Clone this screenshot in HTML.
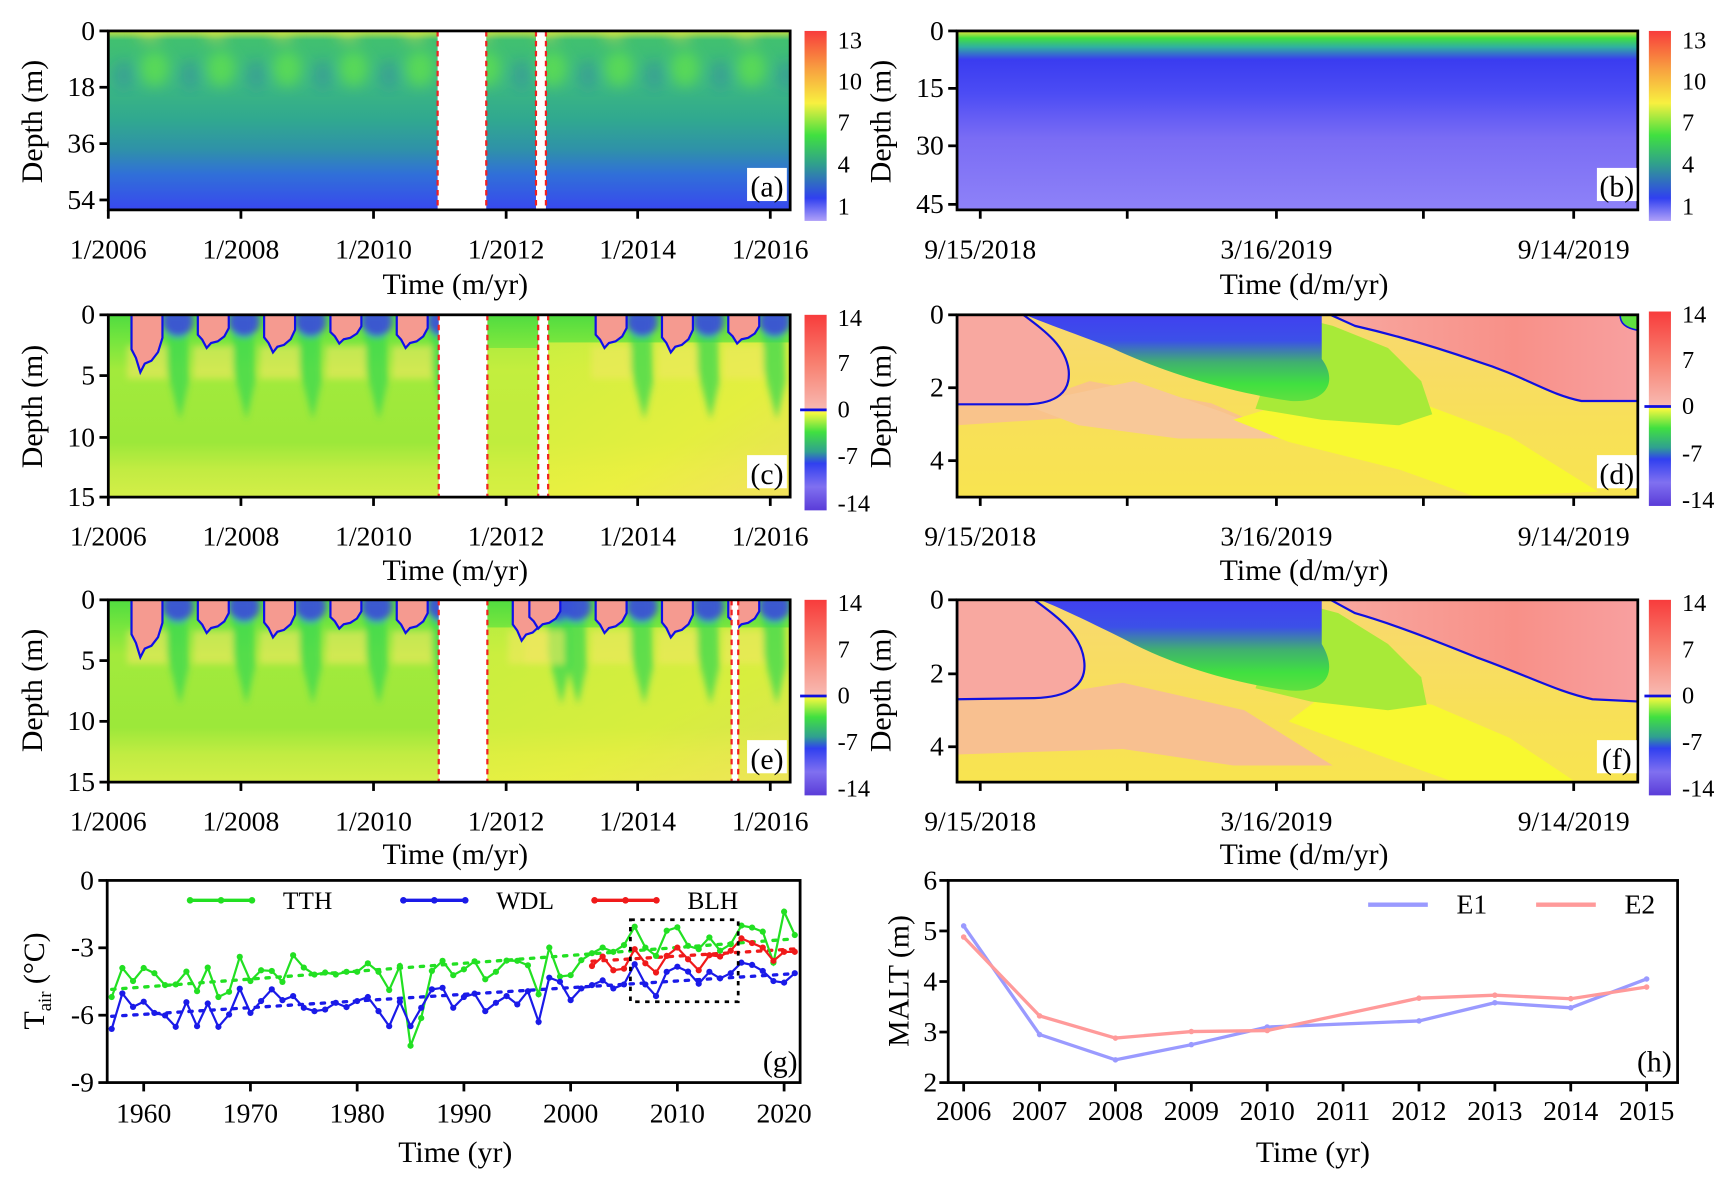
<!DOCTYPE html>
<html><head><meta charset="utf-8"><style>
html,body{margin:0;padding:0;background:#fff;}
svg, svg text{font-family:"Liberation Serif","Times New Roman",serif;}
</style></head><body>
<svg id="fig" width="1724" height="1182" viewBox="0 0 1560 1070" preserveAspectRatio="none" xmlns="http://www.w3.org/2000/svg" font-family="Liberation Serif, serif">
<defs>
<filter id="blur3"><feGaussianBlur stdDeviation="3"/></filter>
<filter id="blur6"><feGaussianBlur stdDeviation="6"/></filter>
<linearGradient id="cbA" x1="0" y1="0" x2="0" y2="1">
<stop offset="0" stop-color="#f83c3c"/><stop offset="0.2" stop-color="#f8a040"/><stop offset="0.38" stop-color="#f8f040"/><stop offset="0.55" stop-color="#40e040"/><stop offset="0.7" stop-color="#30a08c"/><stop offset="0.88" stop-color="#3040f0"/><stop offset="1" stop-color="#b0a0f8"/></linearGradient>
<linearGradient id="cbC" x1="0" y1="0" x2="0" y2="1">
<stop offset="0" stop-color="#f83c3c"/><stop offset="0.25" stop-color="#f88070"/><stop offset="0.48" stop-color="#f8b8b0"/><stop offset="0.5" stop-color="#f8f840"/><stop offset="0.6" stop-color="#40e040"/><stop offset="0.7" stop-color="#30a090"/><stop offset="0.76" stop-color="#3040f0"/><stop offset="0.88" stop-color="#8070f0"/><stop offset="1" stop-color="#5a3cd8"/></linearGradient>
<linearGradient id="gA" x1="0" y1="0" x2="0" y2="1">
<stop offset="0" stop-color="#c8e040"/><stop offset="0.05" stop-color="#40c070"/><stop offset="0.3" stop-color="#3cb880"/><stop offset="0.5" stop-color="#30a890"/><stop offset="0.66" stop-color="#2f92a8"/><stop offset="0.8" stop-color="#3070d8"/><stop offset="1" stop-color="#3848ee"/></linearGradient>
<linearGradient id="gB" x1="0" y1="0" x2="0" y2="1">
<stop offset="0" stop-color="#f0e040"/><stop offset="0.04" stop-color="#40e040"/><stop offset="0.09" stop-color="#30b0a0"/><stop offset="0.16" stop-color="#3a3cf0"/><stop offset="0.35" stop-color="#4c4cf4"/><stop offset="0.6" stop-color="#7a6cf4"/><stop offset="1" stop-color="#8e82f8"/></linearGradient>
<linearGradient id="gC" x1="0" y1="0" x2="0" y2="1">
<stop offset="0" stop-color="#50dc40"/><stop offset="0.15" stop-color="#78e63e"/><stop offset="0.3" stop-color="#a2ea3c"/><stop offset="0.7" stop-color="#9ce83a"/><stop offset="0.85" stop-color="#c2ec42"/><stop offset="1" stop-color="#d4ee48"/></linearGradient>
<linearGradient id="gCr" x1="0" y1="0" x2="1" y2="1">
<stop offset="0" stop-color="#d8f040"/><stop offset="0.6" stop-color="#f0f040"/><stop offset="1" stop-color="#f8e060"/></linearGradient>
<linearGradient id="gD" x1="0" y1="0" x2="0" y2="1">
<stop offset="0" stop-color="#f8d870"/><stop offset="0.6" stop-color="#f8e058"/><stop offset="1" stop-color="#f8e450"/></linearGradient>
<linearGradient id="gWedge" x1="0" y1="0" x2="0" y2="1">
<stop offset="0" stop-color="#4040f0"/><stop offset="0.3" stop-color="#3c50e8"/><stop offset="0.55" stop-color="#40b070"/><stop offset="0.8" stop-color="#40e040"/><stop offset="1" stop-color="#60e040"/></linearGradient>
<linearGradient id="gPinkR" x1="0" y1="0" x2="1" y2="0">
<stop offset="0" stop-color="#f8a8a0"/><stop offset="0.6" stop-color="#f89088"/><stop offset="1" stop-color="#f8a0a0"/></linearGradient>
<clipPath id="clipL"><rect x="0" y="0" width="617" height="165"/></clipPath>
<clipPath id="clipA"><rect x="0" y="0" width="617" height="162"/></clipPath>
</defs>

<g transform="translate(98,28)">
 <g clip-path="url(#clipA)">
  <rect x="0" y="0" width="617" height="162" fill="url(#gA)"/>
  <g id="aSpots" filter="url(#blur6)"></g>
  <rect x="298" y="0" width="44" height="162" fill="#fff"/>
  <rect x="387" y="0" width="9" height="162" fill="#fff"/>
  <g stroke="#f02020" stroke-width="2" stroke-dasharray="5,4"><line x1="298" y1="0" x2="298" y2="162"/><line x1="342" y1="0" x2="342" y2="162"/><line x1="387" y1="0" x2="387" y2="162"/><line x1="396" y1="0" x2="396" y2="162"/></g>
 </g>
 <rect x="0" y="0" width="617" height="162" fill="none" stroke="#000" stroke-width="2.5"/>
</g>
<g transform="translate(866,28)">
 <rect x="0" y="0" width="616" height="162" fill="url(#gB)"/>
 <rect x="0" y="0" width="616" height="162" fill="none" stroke="#000" stroke-width="2.5"/>
</g>
<g transform="translate(98,285)">
 <g clip-path="url(#clipL)">
  <rect x="0" y="0" width="617" height="165" fill="url(#gC)"/>
  <rect x="398" y="25" width="219" height="140" fill="url(#gCr)" opacity="0.85"/>
  <rect x="343" y="30" width="46" height="135" fill="#d8f040" opacity="0.6"/>
  <g id="cDeco"></g>
  <rect x="299" y="0" width="44" height="165" fill="#fff"/>
  <rect x="389" y="0" width="9" height="165" fill="#fff"/>
  <g stroke="#f02020" stroke-width="2" stroke-dasharray="5,4"><line x1="299" y1="0" x2="299" y2="165"/><line x1="343" y1="0" x2="343" y2="165"/><line x1="389" y1="0" x2="389" y2="165"/><line x1="398" y1="0" x2="398" y2="165"/></g>
 </g>
 <rect x="0" y="0" width="617" height="165" fill="none" stroke="#000" stroke-width="2.5"/>
</g>
<g transform="translate(98,543)">
 <g clip-path="url(#clipL)">
  <rect x="0" y="0" width="617" height="165" fill="url(#gC)"/>
  <rect x="343" y="25" width="274" height="140" fill="url(#gCr)" opacity="0.7"/>
  <g id="eDeco"></g>
  <rect x="299" y="0" width="44" height="165" fill="#fff"/>
  <rect x="564" y="0" width="6" height="165" fill="#fff"/>
  <g stroke="#f02020" stroke-width="2" stroke-dasharray="5,4"><line x1="299" y1="0" x2="299" y2="165"/><line x1="343" y1="0" x2="343" y2="165"/><line x1="564" y1="0" x2="564" y2="165"/><line x1="570" y1="0" x2="570" y2="165"/></g>
 </g>
 <rect x="0" y="0" width="617" height="165" fill="none" stroke="#000" stroke-width="2.5"/>
</g>
<g transform="translate(866,285)">
 <g clip-path="url(#clipL)">
  <rect x="0" y="0" width="616" height="165" fill="url(#gD)"/>
  <path d="M0,81 L60,81 L120,60 L230,80 L300,110 L250,95 L170,100 L120,92 L0,100 Z" fill="#f8c090" opacity="0.9"/>
  <path d="M60,81 L160,60 L240,88 L300,112 L200,112 L110,100 Z" fill="#f8c898"/>
  <path d="M330,70 L420,80 L500,110 L580,160 L470,165 L400,140 L300,115 L250,95 Z" fill="#f8f830"/>
  <path d="M300,0 L340,10 L390,30 L420,60 L430,90 L400,100 L330,95 L270,85 Z" fill="#a8ea38"/>
  <path d="M62,0 L330,0 L330,40 C345,60 335,80 302,78 C260,72 200,58 140,30 C110,18 80,8 62,0 Z" fill="url(#gWedge)"/>
  <path d="M0,0 L60,0 C80,15 98,28 101,50 C103,70 90,80 64,81 L0,81 Z" fill="#f8a8a0" stroke="#1010e0" stroke-width="2"/>
  <path d="M338,0 L616,0 L616,78 L565,78 C535,72 515,56 470,42 C430,28 395,18 360,10 Z" fill="url(#gPinkR)" stroke="#1010e0" stroke-width="2"/>
  <path d="M600,0 C600,8 605,12 616,14 L616,0 Z" fill="#60e040" stroke="#1010e0" stroke-width="1.5"/>
 </g>
 <rect x="0" y="0" width="616" height="165" fill="none" stroke="#000" stroke-width="2.5"/>
</g>
<g transform="translate(866,543)">
 <g clip-path="url(#clipL)">
  <rect x="0" y="0" width="616" height="165" fill="url(#gD)"/>
  <path d="M0,88 L70,88 L150,75 L260,100 L340,150 L250,150 L150,135 L0,140 Z" fill="#f8c090"/>
  <path d="M340,80 L430,95 L500,125 L560,165 L450,165 L380,140 L300,110 Z" fill="#f8f830"/>
  <path d="M300,0 L345,12 L390,40 L420,70 L425,95 L390,100 L320,92 L270,80 Z" fill="#a8ea38"/>
  <path d="M75,0 L330,0 L330,40 C345,65 335,85 300,82 C255,76 200,62 150,35 C120,20 95,8 75,0 Z" fill="url(#gWedge)"/>
  <path d="M0,0 L70,0 C90,15 112,30 115,55 C118,78 100,88 70,89 L0,90 Z" fill="#f8a8a0" stroke="#1010e0" stroke-width="2"/>
  <path d="M338,0 L616,0 L616,92 L575,90 C545,84 515,68 470,52 C430,36 395,22 360,12 Z" fill="url(#gPinkR)" stroke="#1010e0" stroke-width="2"/>
 </g>
 <rect x="0" y="0" width="616" height="165" fill="none" stroke="#000" stroke-width="2.5"/>
</g>

<g><rect x="728" y="28" width="20" height="172" fill="url(#cbA)"/></g>
<g><rect x="1492" y="28" width="20" height="172" fill="url(#cbA)"/></g>
<g><rect x="728" y="285" width="20" height="177" fill="url(#cbC)"/><line x1="724" y1="371" x2="748" y2="371" stroke="#1010e0" stroke-width="2.5"/></g>
<g><rect x="1492" y="282" width="20" height="176" fill="url(#cbC)"/><line x1="1488" y1="368" x2="1512" y2="368" stroke="#1010e0" stroke-width="2.5"/></g>
<g><rect x="728" y="543" width="20" height="177" fill="url(#cbC)"/><line x1="724" y1="630" x2="748" y2="630" stroke="#1010e0" stroke-width="2.5"/></g>
<g><rect x="1492" y="543" width="20" height="177" fill="url(#cbC)"/><line x1="1488" y1="630" x2="1512" y2="630" stroke="#1010e0" stroke-width="2.5"/></g>

<g id="texts" font-size="24" fill="#000"></g>
<g id="panelG"></g>
<g id="panelH"></g>
</svg>
<script>
const gYears = [];
for (let y = 1957; y <= 2021; y++) gYears.push(y);
const tthValues = [-5.19,-3.9,-4.48,-3.9,-4.13,-4.66,-4.63,-4.06,-4.93,-3.88,-5.19,-4.96,-3.4,-4.48,-4.0,-4.03,-4.52,-3.33,-3.88,-4.19,-4.1,-4.19,-4.07,-4.07,-3.69,-4.07,-4.88,-3.81,-7.36,-6.13,-4.03,-3.58,-4.22,-3.96,-3.6,-4.4,-4.07,-3.57,-3.58,-3.78,-5.07,-2.99,-4.28,-4.22,-3.55,-3.24,-2.99,-3.18,-2.88,-2.06,-2.99,-3.36,-2.24,-2.09,-2.91,-3.06,-2.54,-3.13,-2.84,-2.01,-2.1,-2.28,-3.66,-1.39,-2.43];
const wdlValues = [-6.61,-5.03,-5.63,-5.4,-5.9,-6.01,-6.52,-5.42,-6.49,-5.48,-6.52,-5.97,-4.82,-5.9,-5.37,-4.85,-5.33,-5.15,-5.67,-5.82,-5.75,-5.45,-5.64,-5.37,-5.19,-5.82,-6.49,-5.4,-6.49,-5.67,-4.85,-4.78,-5.67,-5.19,-5.04,-5.82,-5.45,-5.15,-5.52,-4.93,-6.3,-4.33,-4.51,-5.33,-4.81,-4.66,-4.45,-4.81,-4.63,-3.73,-4.63,-5.15,-4.07,-3.84,-4.06,-4.6,-4.07,-4.36,-4.13,-3.66,-3.76,-4.03,-4.48,-4.55,-4.13];
const blhYears = [2002,2003,2004,2005,2006,2007,2008,2009,2010,2011,2012,2013,2014,2015,2016,2017,2018,2019,2020,2021];
const blhValues = [-3.81,-3.39,-4.0,-3.93,-3.06,-3.69,-4.1,-3.36,-2.99,-3.51,-4.0,-3.33,-3.39,-3.13,-2.58,-2.79,-2.99,-3.58,-3.18,-3.18];
const tthTrend = [[1957,-4.85],[2021,-2.6]];
const wdlTrend = [[1957,-6.05],[2021,-4.15]];
const blhTrend = [[2002,-3.6],[2021,-3.05]];
const gYTicks = [0,-3,-6,-9];
const gXTicks = [1960,1970,1980,1990,2000,2010,2020];
const hCategories = [2006,2007,2008,2009,2010,2011,2012,2013,2014,2015];
const e1Years = [2006,2007,2008,2009,2010,2012,2013,2014,2015];
const e1Values = [5.1,2.95,2.45,2.75,3.1,3.22,3.58,3.48,4.05];
const e2Values = [4.88,3.32,2.88,3.01,3.03,3.67,3.73,3.66,3.89];
const hYTicks = [6,5,4,3,2];

const NS = "http://www.w3.org/2000/svg";
const FONT = '"Liberation Serif", "Times New Roman", serif';
function mk(tag, attrs, parent) {
  const e = document.createElementNS(NS, tag);
  for (const k in attrs) e.setAttribute(k, attrs[k]);
  if (parent) parent.appendChild(e);
  return e;
}
function txt(parent, x, y, s, anchor, size, name) {
  const t = mk('text', {x: x, y: y, 'text-anchor': anchor || 'middle', 'font-size': size || 24, 'font-family': FONT}, parent);
  t.textContent = s;
  
  
  return t;
}
const T = document.getElementById('texts');

const aSp = document.getElementById('aSpots');
for (let k = 0; k < 11; k++) {
  const cx = 42 + 60 * k;
  const sp = mk('ellipse', {cx: cx, cy: 34, rx: 13, ry: 16, fill: '#5ee050', opacity: 0.8}, aSp);
  
  
  const bl = mk('ellipse', {cx: cx - 28, cy: 40, rx: 10, ry: 14, fill: '#3070c0', opacity: 0.3}, aSp);
  
  
  mk('rect', {x: cx - 14, y: 0, width: 18, height: 6, fill: '#e8e840', opacity: 0.9}, aSp);
}
function deco(id, years) {
  const g = document.getElementById(id);
  const blurG = mk('g', {filter: 'url(#blur3)'}, g);
  for (const k of years) {
    const x0 = 21 + 60 * k;
    const st = mk('path', {d: `M${x0+30},0 L${x0+50},0 L${x0+52},60 L${x0+44},95 L${x0+32},50 Z`, fill: '#38d850', opacity: 0.75}, blurG);
    
    
    const bb = mk('ellipse', {cx: x0 + 42, cy: 6, rx: 14, ry: 14, fill: '#3838f0', opacity: 0.8}, blurG);
    
    
    mk('rect', {x: x0 - 4, y: 28, width: 36, height: 30, fill: '#f0e860', opacity: 0.6}, blurG);
  }
  for (const k of years) {
    const x0 = 21 + 60 * k;
    const dep = (k === 0) ? 52 : 26 + (k % 3) * 4;
    const p = mk('path', {d: `M${x0},-2 L${x0},${dep*0.6} L${x0+4},${dep*0.75} L${x0+8},${dep} L${x0+12},${dep*0.85} L${x0+18},${dep*0.8} L${x0+24},${dep*0.65} L${x0+28},${dep*0.4} L${x0+28},-2`, fill: '#f59a90', stroke: '#1010e8', 'stroke-width': 2}, g);
    
    
  }
}
deco('cDeco', [0,1,2,3,4,7,8,9]);
deco('eDeco', [0,1,2,3,4,5.75,6,7,8,9]);

function leftAxis(x, ticks, name) {
  for (const [v, y] of ticks) {
    mk('line', {x1: x - 8, y1: y, x2: x, y2: y, stroke: '#000', 'stroke-width': 2.5}, T);
    txt(T, x - 12, y + 8, v, 'end', 25, name + '-tick-label');
  }
}
function bottomAxis(y, ticks, labels, name) {
  for (const x of ticks) mk('line', {x1: x, y1: y, x2: x, y2: y + 8, stroke: '#000', 'stroke-width': 2.5}, T);
  for (const [s, x] of labels) txt(T, x, y + 44, s, 'middle', 25, name + '-tick-label');
}
const yrT = [98,218,338,458,577,697];
const yrL = [['1/2006',98],['1/2008',218],['1/2010',338],['1/2012',458],['1/2014',577],['1/2016',697]];
const dT = [887,1020,1155,1288,1424];
const dL = [['9/15/2018',887],['3/16/2019',1155],['9/14/2019',1424]];
leftAxis(98, [['0',28],['18',79],['36',130],['54',181]], 'a-y');
leftAxis(866, [['0',28],['15',80],['30',132],['45',185]], 'b-y');
leftAxis(98, [['0',285],['5',340],['10',396],['15',450]], 'c-y');
leftAxis(866, [['0',285],['2',351],['4',417]], 'd-y');
leftAxis(98, [['0',543],['5',598],['10',653],['15',708]], 'e-y');
leftAxis(866, [['0',543],['2',610],['4',676]], 'f-y');
bottomAxis(190, yrT, yrL, 'a-x');
bottomAxis(190, dT, dL, 'b-x');
bottomAxis(450, yrT, yrL, 'c-x');
bottomAxis(450, dT, dL, 'd-x');
bottomAxis(708, yrT, yrL, 'e-x');
bottomAxis(708, dT, dL, 'f-x');
txt(T, 412, 266, 'Time (m/yr)', 'middle', 27, 'a-x-title');
txt(T, 1180, 266, 'Time (d/m/yr)', 'middle', 27, 'b-x-title');
txt(T, 412, 525, 'Time (m/yr)', 'middle', 27, 'c-x-title');
txt(T, 1180, 525, 'Time (d/m/yr)', 'middle', 27, 'd-x-title');
txt(T, 412, 782, 'Time (m/yr)', 'middle', 27, 'e-x-title');
txt(T, 1180, 782, 'Time (d/m/yr)', 'middle', 27, 'f-x-title');
const yts = [[38,110],[806,110],[38,368],[806,368],[38,625],[806,625]];
for (const [x, y] of yts) {
  const t = txt(T, x, y, 'Depth (m)', 'middle', 27, 'depth-axis-title');
  t.setAttribute('transform', `rotate(-90 ${x} ${y})`);
}
const cbA = [['13',44],['10',81],['7',118],['4',156],['1',194]];
for (const [s, y] of cbA) { txt(T, 758, y, s, 'start', 22, 'colorbar-a-label'); txt(T, 1522, y, s, 'start', 22, 'colorbar-b-label'); }
const cbLab = ['14','7','0','-7','-14'];
const cbPos = [[758,[295,336,378,420,463]],[1522,[292,333,375,418,460]],[758,[553,595,637,679,721]],[1522,[553,595,637,679,721]]];
for (const [x, ys] of cbPos) cbLab.forEach((s, i) => txt(T, x, ys[i], s, 'start', 22, 'colorbar-label'));
const tags = [['(a)',694,174],['(b)',1463,174],['(c)',694,434],['(d)',1463,434],['(e)',694,692],['(f)',1463,692]];
for (const [s, x, y] of tags) {
  mk('rect', {x: x - 18, y: y - 22, width: 36, height: 30, fill: '#fff'}, T);
  txt(T, x, y + 4, s, 'middle', 27, 'panel-tag');
}

const G = document.getElementById('panelG');
const gx0 = 97, gx1 = 724, gy0 = 797, gy1 = 980;
const gX = y => gx0 + (y - 1956.58) / (2021.5 - 1956.58) * (gx1 - gx0);
const gY = v => gy0 + (0 - v) / 9 * (gy1 - gy0);
function trend(par, pts, color, name) {
  const l = mk('line', {x1: gX(pts[0][0]), y1: gY(pts[0][1]), x2: gX(pts[1][0]), y2: gY(pts[1][1]), stroke: color, 'stroke-width': 3, 'stroke-dasharray': '3,7', 'stroke-linecap': 'round'}, par);
  
  
}
function series(par, xs, vs, X, Y, color, name, w, r) {
  const d = xs.map((x, i) => (i ? 'L' : 'M') + X(x).toFixed(1) + ',' + Y(vs[i]).toFixed(1)).join(' ');
  const p = mk('path', {d: d, fill: 'none', stroke: color, 'stroke-width': w}, par);
  
  
  xs.forEach((x, i) => {
    const c = mk('circle', {cx: X(x), cy: Y(vs[i]), r: r, fill: color}, par);
    
    
  });
}
trend(G, tthTrend, '#22e022', 'tth-trend');
trend(G, wdlTrend, '#1a1ae8', 'wdl-trend');
trend(G, blhTrend, '#f01a1a', 'blh-trend');
series(G, gYears, tthValues, gX, gY, '#22e022', 'tth', 2, 2.8);
series(G, gYears, wdlValues, gX, gY, '#1a1ae8', 'wdl', 2, 2.8);
series(G, blhYears, blhValues, gX, gY, '#f01a1a', 'blh', 2, 2.8);
const box = mk('rect', {x: gX(2005.6), y: gY(-1.75), width: gX(2015.7) - gX(2005.6), height: gY(-5.4) - gY(-1.75), fill: 'none', stroke: '#000', 'stroke-width': 2.5, 'stroke-dasharray': '4,5'}, G);


mk('rect', {x: gx0, y: gy0, width: gx1 - gx0, height: gy1 - gy0, fill: 'none', stroke: '#000', 'stroke-width': 2.5}, G);
for (const v of gYTicks) {
  mk('line', {x1: gx0 - 8, y1: gY(v), x2: gx0, y2: gY(v), stroke: '#000', 'stroke-width': 2.5}, G);
  txt(G, gx0 - 12, gY(v) + 8, String(v), 'end', 25, 'g-y-tick-label');
}
for (const y of gXTicks) {
  mk('line', {x1: gX(y), y1: gy1, x2: gX(y), y2: gy1 + 8, stroke: '#000', 'stroke-width': 2.5}, G);
  txt(G, gX(y), gy1 + 36, String(y), 'middle', 25, 'g-x-tick-label');
}
txt(G, 412, 1052, 'Time (yr)', 'middle', 27, 'g-x-title');
const gt = mk('text', {x: 40, y: 888, 'text-anchor': 'middle', 'font-size': 27, 'font-family': FONT, transform: 'rotate(-90 40 888)'}, G);


gt.innerHTML = 'T<tspan font-size="17" dy="6">air</tspan><tspan dy="-6"> (°C)</tspan>';
txt(G, 706, 970, '(g)', 'middle', 27, 'panel-tag');
const legG = [['TTH', '#22e022', 172], ['WDL', '#1a1ae8', 365], ['BLH', '#f01a1a', 538]];
for (const [s, c, x] of legG) {
  const lg = mk('g', {}, G);
  
  
  mk('line', {x1: x, y1: 815, x2: x + 56, y2: 815, stroke: c, 'stroke-width': 3}, lg);
  for (const dx of [0, 28, 56]) mk('circle', {cx: x + dx, cy: 815, r: 3, fill: c}, lg);
  txt(lg, x + 84, 823, s, 'start', 23, 'legend-label');
}

const H = document.getElementById('panelH');
const hx0 = 858, hx1 = 1518, hy0 = 797, hy1 = 980;
const hX = y => 872 + (y - 2006) * (1490 - 872) / 9;
const hY = v => hy0 + (6 - v) / 4 * (hy1 - hy0);
series(H, e1Years, e1Values, hX, hY, '#9a9aff', 'e1', 3, 2.5);
series(H, e1Years, e2Values, hX, hY, '#ff9a9a', 'e2', 3, 2.5);
mk('rect', {x: hx0, y: hy0, width: hx1 - hx0, height: hy1 - hy0, fill: 'none', stroke: '#000', 'stroke-width': 2.5}, H);
for (const v of hYTicks) {
  mk('line', {x1: hx0 - 8, y1: hY(v), x2: hx0, y2: hY(v), stroke: '#000', 'stroke-width': 2.5}, H);
  txt(H, hx0 - 10, hY(v) + 8, String(v), 'end', 25, 'h-y-tick-label');
}
for (const y of hCategories) {
  mk('line', {x1: hX(y), y1: hy1, x2: hX(y), y2: hy1 + 8, stroke: '#000', 'stroke-width': 2.5}, H);
  txt(H, hX(y), hy1 + 34, String(y), 'middle', 25, 'h-x-tick-label');
}
txt(H, 1188, 1052, 'Time (yr)', 'middle', 27, 'h-x-title');
const ht = txt(H, 822, 888, 'MALT (m)', 'middle', 27, 'h-y-title');
ht.setAttribute('transform', 'rotate(-90 822 888)');
txt(H, 1497, 970, '(h)', 'middle', 27, 'panel-tag');
const legH = [['E1', '#9a9aff', 1238], ['E2', '#ff9a9a', 1390]];
for (const [s, c, x] of legH) {
  const lg = mk('g', {}, H);
  
  
  mk('line', {x1: x, y1: 819, x2: x + 54, y2: 819, stroke: c, 'stroke-width': 4}, lg);
  txt(lg, x + 80, 827, s, 'start', 25, 'legend-label');
}
</script>
</body></html>
